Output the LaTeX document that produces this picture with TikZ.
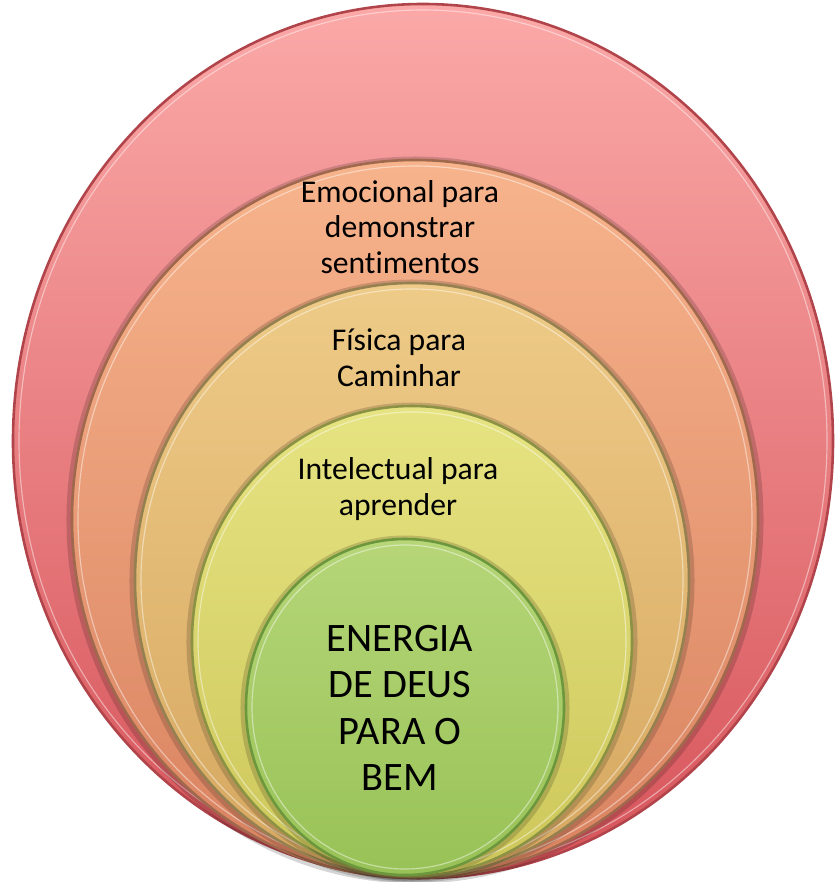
\documentclass[tikz,border=0pt]{standalone}
\usepackage{fontspec}
\setmainfont{Carlito}[Ligatures=NoCommon]
\usetikzlibrary{shapes.geometric}
\definecolor{rA}{HTML}{FBA9A8}\definecolor{rB}{HTML}{D6545A}\definecolor{rE}{HTML}{B0444A}
\definecolor{oA}{HTML}{F7B48C}\definecolor{oB}{HTML}{D98260}\definecolor{oE}{HTML}{A0684C}
\definecolor{yA}{HTML}{EECB88}\definecolor{yB}{HTML}{D6A760}\definecolor{yE}{HTML}{958050}
\definecolor{lA}{HTML}{E6E382}\definecolor{lB}{HTML}{CDC75A}\definecolor{lE}{HTML}{8C9244}
\definecolor{gA}{HTML}{B6D678}\definecolor{gB}{HTML}{98C257}\definecolor{gE}{HTML}{6C973C}
\tikzset{
  ring/.style={ellipse, inner sep=0pt, outer sep=0pt, shading=axis, shading angle=45, line width=2.2pt},
  shad/.style={black, opacity=0.16, line width=6pt},
  hl/.style={white, opacity=0.45, line width=1pt},
  lbl/.style={align=center, text=black, font=\fontsize{27}{30.6}\selectfont},
  big/.style={align=center, text=black, font=\fontsize{34.5}{39.7}\selectfont}
}
\begin{document}
\begin{tikzpicture}[x=0.03cm,y=-0.03cm]
\useasboundingbox (0,0) rectangle (837,882);
\node[ring, top color=rA, bottom color=rB, draw=rE, minimum width=24.6cm, minimum height=26.22cm] (c1) at (423,441) {};
\draw[hl] (423,441) ellipse [x radius=404, y radius=431];
\draw[shad] (415,520) ellipse [x radius=345, y radius=360];
\node[ring, top color=oA, bottom color=oB, draw=oE, minimum width=20.58cm, minimum height=21.54cm] (c2) at (415,519) {};
\draw[hl] (415,519) ellipse [x radius=337, y radius=353];
\draw[shad] (412,581) ellipse [x radius=279, y radius=298];
\node[ring, top color=yA, bottom color=yB, draw=yE, minimum width=16.62cm, minimum height=17.82cm] (c3) at (412,580) {};
\draw[hl] (412,580) ellipse [x radius=271, y radius=291];
\draw[shad] (412,642) ellipse [x radius=222, y radius=236];
\node[ring, top color=lA, bottom color=lB, draw=lE, minimum width=13.2cm, minimum height=14.1cm] (c4) at (412,641) {};
\draw[hl] (412,641) ellipse [x radius=214, y radius=229];
\draw[shad] (405,708) ellipse [x radius=161, y radius=169];
\node[ring, top color=gA, bottom color=gB, draw=gE, minimum width=9.54cm, minimum height=10.08cm] (c5) at (405,707) {};
\draw[hl] (405,707) ellipse [x radius=153, y radius=162];
\node[lbl] (t2) at (400,227) {Emocional para\\demonstrar\\sentimentos};
\node[lbl] (t3) at (399,358) {Física para\\Caminhar};
\node[lbl] (t4) at (398,489) {Intelectual para\\aprender};
\node[big] (t5) at (400,708) {ENERGIA\\DE DEUS\\PARA O\\BEM};
\end{tikzpicture}
\end{document}
